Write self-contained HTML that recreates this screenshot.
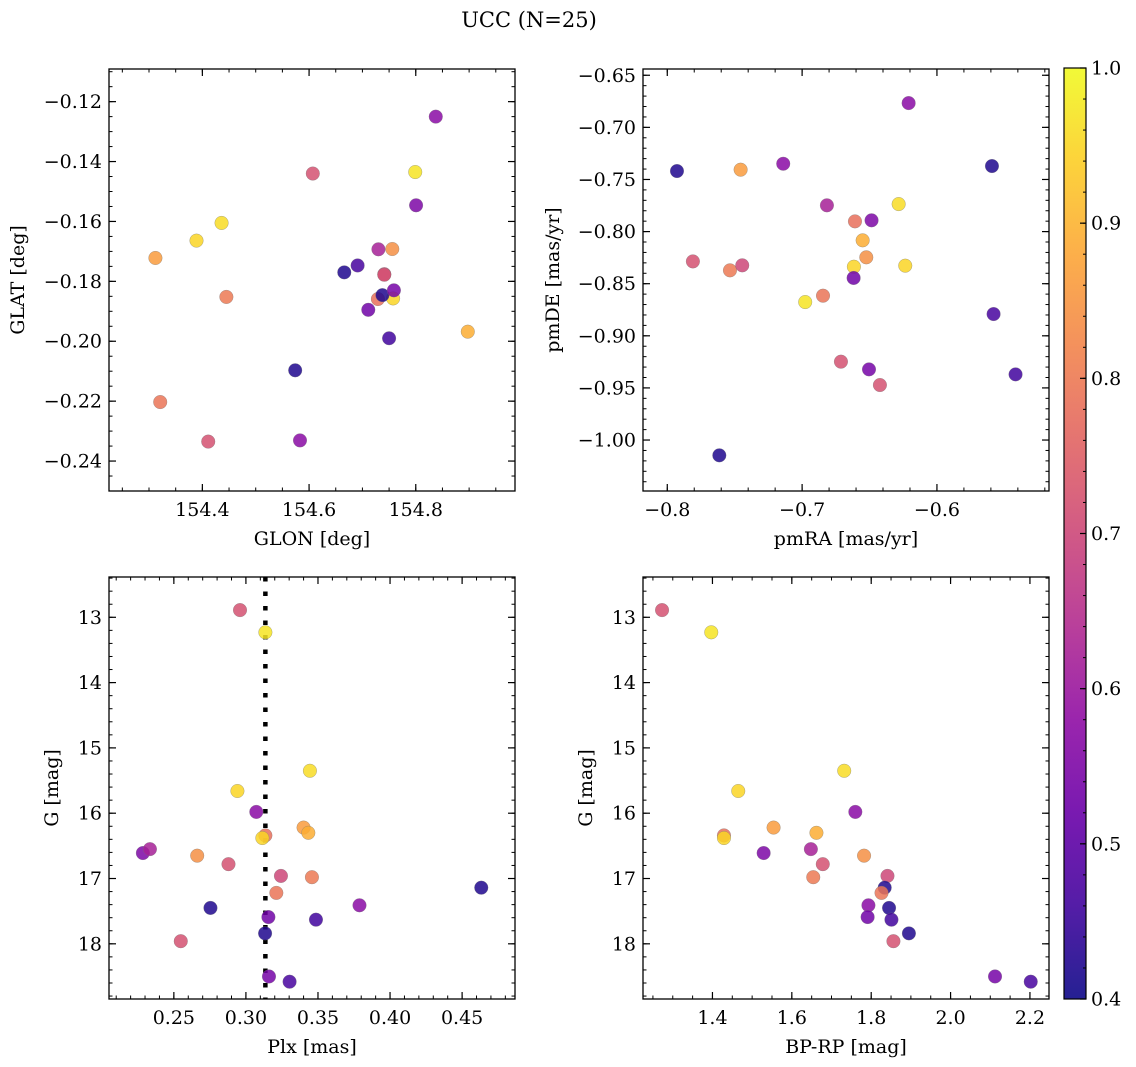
<!DOCTYPE html>
<html><head><meta charset="utf-8">
<style>
html,body{margin:0;padding:0;background:#fff;}
svg{display:block;font-family:"DejaVu Serif","Liberation Serif",serif;}
</style></head>
<body>
<svg id="fig" width="1136" height="1067" viewBox="0 0 1136 1067" xmlns="http://www.w3.org/2000/svg">
<text x="529" y="27" font-size="21" text-anchor="middle">UCC (N=25)</text>
</svg>
<script>
// ---- data (one entry per star) ----
const glon = [154.607,154.799,154.436,154.389,154.8375,154.729,154.7575,154.312,154.8975,154.8006,154.73,154.411,154.756,154.445,154.741,154.666,154.321,154.583,154.7375,154.711,154.75,154.574,154.741,154.759,154.691];
const glat = [-0.1440,-0.1435,-0.1605,-0.1664,-0.1250,-0.1859,-0.1857,-0.1722,-0.1968,-0.1546,-0.1693,-0.2335,-0.1692,-0.1852,-0.1776,-0.1770,-0.2203,-0.2331,-0.1846,-0.1895,-0.1990,-0.2097,-0.1778,-0.1830,-0.1747];
const pmra = [-0.6712,-0.6977,-0.6284,-0.6235,-0.621,-0.6608,-0.6616,-0.7456,-0.6551,-0.6485,-0.6816,-0.781,-0.6524,-0.7535,-0.7444,-0.7928,-0.6845,-0.714,-0.5592,-0.6618,-0.5417,-0.7614,-0.6423,-0.6504,-0.558];
const pmde = [-0.9248,-0.8676,-0.7736,-0.8327,-0.6767,-0.7902,-0.8337,-0.7406,-0.8084,-0.7892,-0.7748,-0.8286,-0.8247,-0.8372,-0.8324,-0.7419,-0.8615,-0.7349,-0.7371,-0.8445,-0.937,-1.0147,-0.9472,-0.9322,-0.8791];
const plx = [0.2959,0.3135,0.3444,0.2941,0.3072,0.3135,0.3114,0.340,0.3433,0.2285,0.2334,0.2879,0.2662,0.3458,0.3243,0.4633,0.3211,0.3788,0.2754,0.3156,0.3486,0.3133,0.2548,0.3160,0.3303];
const gmag = [12.89,13.23,15.35,15.66,15.98,16.34,16.38,16.22,16.30,16.61,16.55,16.78,16.65,16.98,16.96,17.14,17.22,17.41,17.45,17.59,17.63,17.84,17.96,18.50,18.58];
const bprp = [1.273,1.397,1.732,1.465,1.760,1.429,1.429,1.554,1.662,1.529,1.648,1.678,1.782,1.654,1.841,1.834,1.826,1.793,1.845,1.791,1.851,1.895,1.856,2.112,2.202];
const prob = [0.72,0.97,0.96,0.95,0.57,0.78,0.95,0.86,0.89,0.55,0.62,0.72,0.84,0.80,0.70,0.42,0.79,0.57,0.42,0.53,0.46,0.42,0.72,0.54,0.47];
const plxLine = [0.3135];
const cbTicks = [0.4,0.5,0.6,0.7,0.8,0.9,1.0];

const NS = "http://www.w3.org/2000/svg";
const svg = document.getElementById('fig');
function mk(tag, attrs, parent){const e=document.createElementNS(NS,tag);for(const k in attrs)e.setAttribute(k,attrs[k]);(parent||svg).appendChild(e);return e;}

const plasma=[[13,8,135],[65,4,157],[106,0,168],[143,13,164],[177,42,144],[204,71,120],[225,100,98],[242,132,75],[252,166,54],[252,206,37],[240,249,33]];
function cmap(t){t=Math.max(0,Math.min(1,t));const f=t*10,i=Math.min(9,Math.floor(f)),r=f-i;const a=plasma[i],b=plasma[i+1];return 'rgb('+a.map((v,k)=>Math.round(v+(b[k]-v)*r)).join(',')+')';}
const norm=p=>(p-0.4)/0.6;

function fmt(v,d){const s=Math.abs(v).toFixed(d);return (v<0?'\u2212':'')+s;}
const TFS=19, LFS=19;

function panel(o){
  const g=mk('g',{});  
  const X=v=>o.x0+(v-o.xmin)/(o.xmax-o.xmin)*(o.x1-o.x0);
  const Y=v=>o.inv? o.y0+(v-o.ymin)/(o.ymax-o.ymin)*(o.y1-o.y0) : o.y1-(v-o.ymin)/(o.ymax-o.ymin)*(o.y1-o.y0);
  const tg=mk('g',{stroke:'#000','stroke-width':1},g);
  function ticksX(step,len){const s=Math.ceil(o.xmin/step-1e-6);for(let k=s;k*step<=o.xmax+1e-9;k++){const x=X(k*step);mk('line',{x1:x,x2:x,y1:o.y1,y2:o.y1-len},tg);mk('line',{x1:x,x2:x,y1:o.y0,y2:o.y0+len},tg);}}
  function ticksY(step,len){const lo=Math.min(o.ymin,o.ymax),hi=Math.max(o.ymin,o.ymax);const s=Math.ceil(lo/step-1e-6);for(let k=s;k*step<=hi+1e-9;k++){const y=Y(k*step);mk('line',{x1:o.x0,x2:o.x0+len,y1:y,y2:y},tg);mk('line',{x1:o.x1,x2:o.x1-len,y1:y,y2:y},tg);}}
  ticksX(o.xminor,3.5);ticksY(o.yminor,3.5);
  const mg=mk('g',{stroke:'#000','stroke-width':1.2},g);
  o.xt.forEach(v=>{const x=X(v);mk('line',{x1:x,x2:x,y1:o.y1,y2:o.y1-7},mg);mk('line',{x1:x,x2:x,y1:o.y0,y2:o.y0+7},mg);
    const t=mk('text',{x:x,y:o.y1+25,'font-size':TFS,'text-anchor':'middle'},g);t.textContent=fmt(v,o.xd);});
  o.yt.forEach(v=>{const y=Y(v);mk('line',{x1:o.x0,x2:o.x0+7,y1:y,y2:y},mg);mk('line',{x1:o.x1,x2:o.x1-7,y1:y,y2:y},mg);
    const t=mk('text',{x:o.x0-7,y:y+6.5,'font-size':TFS,'text-anchor':'end'},g);t.textContent=fmt(v,o.yd);});
  if(o.vline){o.vline.forEach(v=>{const l=mk('line',{x1:X(v),x2:X(v),y1:o.y0,y2:o.y1,stroke:'#000','stroke-width':4.5,'stroke-dasharray':'4.5 10'},g);});}
  const pg=mk('g',{},g);  
  o.xs.forEach((xv,i)=>{const c=mk('circle',{cx:X(xv),cy:Y(o.ys[i]),r:6.8,fill:cmap(norm(prob[i])),'fill-opacity':0.85,stroke:'#777','stroke-opacity':0.6,'stroke-width':0.5},pg);
    });
  const f=mk('rect',{x:o.x0,y:o.y0,width:o.x1-o.x0,height:o.y1-o.y0,fill:'none',stroke:'#000','stroke-width':1.3},g);
  
  const xl=mk('text',{x:(o.x0+o.x1)/2,y:o.y1+54,'font-size':LFS,'text-anchor':'middle'},g);xl.textContent=o.xlabel;
  
  const cy=(o.y0+o.y1)/2;
  const yl=mk('text',{x:o.ylx,y:cy,'font-size':LFS,'text-anchor':'middle',transform:'rotate(-90 '+o.ylx+' '+cy+')'},g);yl.textContent=o.ylabel;
  
}

panel({name:'glon-glat-panel',x0:109,x1:515,y0:69,y1:491,xmin:154.225,xmax:154.986,ymin:-0.2500,ymax:-0.1091,
  xt:[154.4,154.6,154.8],yt:[-0.12,-0.14,-0.16,-0.18,-0.20,-0.22,-0.24],xd:1,yd:2,xminor:0.05,yminor:0.005,
  xs:glon,ys:glat,xlabel:'GLON [deg]',ylabel:'GLAT [deg]',ylx:24});
panel({name:'pm-panel',x0:643,x1:1049,y0:69,y1:491,xmin:-0.818,xmax:-0.5169,ymin:-1.0489,ymax:-0.644,
  xt:[-0.8,-0.7,-0.6],yt:[-0.65,-0.70,-0.75,-0.80,-0.85,-0.90,-0.95,-1.00],xd:1,yd:2,xminor:0.02,yminor:0.01,
  xs:pmra,ys:pmde,xlabel:'pmRA [mas/yr]',ylabel:'pmDE [mas/yr]',ylx:559});
panel({name:'plx-g-panel',x0:109,x1:515,y0:577,y1:999,xmin:0.205,xmax:0.4867,ymin:12.383,ymax:18.845,inv:true,
  xt:[0.25,0.30,0.35,0.40,0.45],yt:[13,14,15,16,17,18],xd:2,yd:0,xminor:0.01,yminor:0.2,
  xs:plx,ys:gmag,xlabel:'Plx [mas]',ylabel:'G [mag]',ylx:58,vline:plxLine});
panel({name:'cmd-panel',x0:643,x1:1049,y0:577,y1:999,xmin:1.225,xmax:2.248,ymin:12.383,ymax:18.845,inv:true,
  xt:[1.4,1.6,1.8,2.0,2.2],yt:[13,14,15,16,17,18],xd:1,yd:0,xminor:0.05,yminor:0.2,
  xs:bprp,ys:gmag,xlabel:'BP-RP [mag]',ylabel:'G [mag]',ylx:592});

(function(){
  const x0=1064,x1=1086,y0=68,y1=999;
  const g=mk('g',{});
  const defs=mk('defs',{},g);const lg=mk('linearGradient',{id:'cbg',x1:0,y1:1,x2:0,y2:0},defs);
  for(let i=0;i<=20;i++){mk('stop',{offset:(i/20),'stop-color':cmap(i/20),'stop-opacity':0.9},lg);}
  mk('rect',{x:x0,y:y0,width:x1-x0,height:y1-y0,fill:'url(#cbg)',stroke:'#000','stroke-width':1.2},g);
  const Y=v=>y1-(v-0.4)/0.6*(y1-y0);
  for(let k=0;k<=30;k++){const v=0.4+k*0.02;const y=Y(v);mk('line',{x1:x1,x2:x1-3,y1:y,y2:y,stroke:'#000','stroke-width':1},g);}
  cbTicks.forEach(v=>{const y=Y(v);mk('line',{x1:x1,x2:x1-6,y1:y,y2:y,stroke:'#000','stroke-width':1.2},g);
    const t=mk('text',{x:x1+5,y:y+6.5,'font-size':TFS},g);t.textContent=v.toFixed(1);});
})();
</script>
</body></html>
